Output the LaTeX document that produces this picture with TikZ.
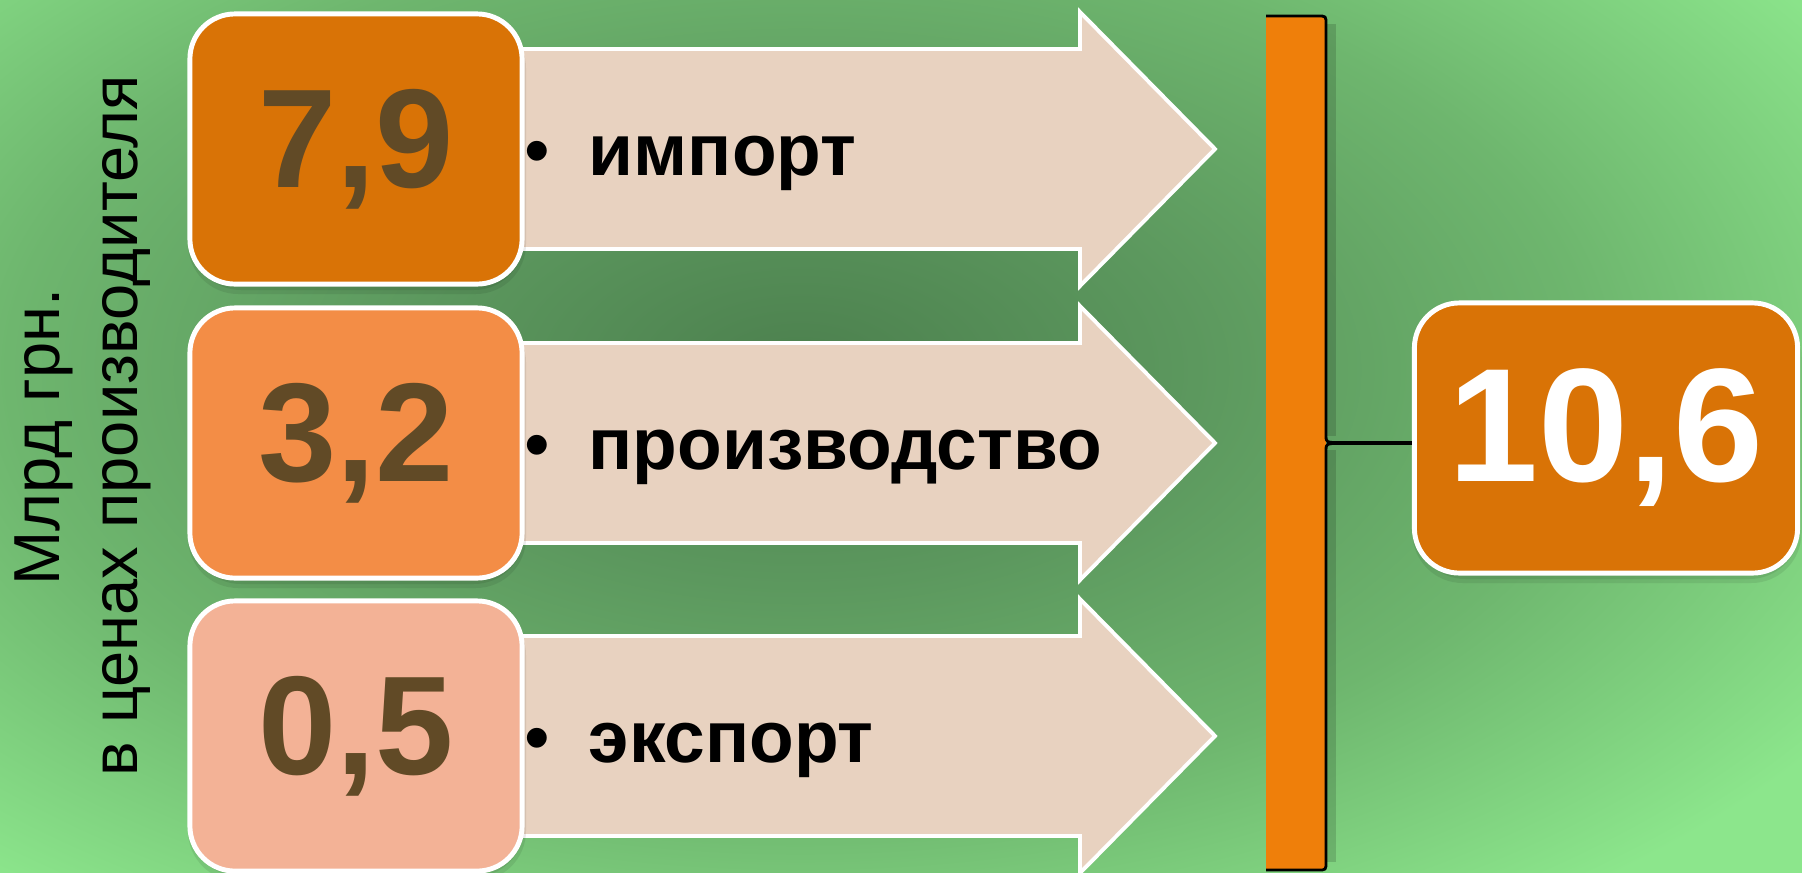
\documentclass[tikz,border=0pt]{standalone}
\usepackage{fontspec}
\setmainfont{Liberation Sans}
\definecolor{bgA}{RGB}{76,128,78}
\definecolor{bgB}{RGB}{92,152,94}
\definecolor{bgC}{RGB}{110,182,110}
\definecolor{bgD}{RGB}{140,230,140}
\definecolor{darkorange}{RGB}{217,115,6}
\definecolor{midorange}{RGB}{243,141,70}
\definecolor{lightsalmon}{RGB}{243,178,150}
\definecolor{barorange}{RGB}{239,127,10}
\definecolor{arrowfill}{RGB}{232,210,192}
\definecolor{digitbrown}{RGB}{97,74,38}
\pgfdeclareradialshading{bgshade}{\pgfpoint{0bp}{0bp}}{color(0bp)=(bgA); color(9bp)=(bgB); color(18bp)=(bgC); color(28bp)=(bgD); color(50bp)=(bgD)}
\begin{document}
\begin{tikzpicture}[x=0.01cm,y=-0.01cm,
  numbox/.style={rounded corners=0.45cm, draw=white, line width=1.4pt, minimum width=3.32cm, minimum height=2.7cm, inner sep=0pt, font=\fontsize{40}{40}\selectfont\bfseries, text=digitbrown},
  arrowshape/.style={fill=arrowfill, draw=white, line width=1.1pt, line join=miter},
  lbl/.style={font=\fontsize{20.8}{24}\selectfont\bfseries, anchor=base west, inner sep=0pt},
  bullet/.style={font=\fontsize{20.8}{24}\selectfont, anchor=base, inner sep=0pt},
  captxt/.style={rotate=90, anchor=base, inner sep=0pt, font=\fontsize{18.5}{22}\selectfont},
  boxshadow/.style={fill=black, opacity=0.08, rounded corners=0.5cm}]
\useasboundingbox (0,0) rectangle (1802,872);
\begin{scope}
\clip (0,0) rectangle (1802,872);
\shade[shading=bgshade] (-300,-230) rectangle (1900,970);
\end{scope}
% left caption
\node[captxt] (cap1) at (60,437) {Млрд грн.};
\node[captxt] (cap2) at (137,426) {в ценах производителя};
% arrows
\foreach \c in {149,443,736}{
  \path[arrowshape] (515,\c-100) -- (1080,\c-100) -- (1080,\c-137) -- (1215,\c) -- (1080,\c+137) -- (1080,\c+100) -- (515,\c+100) -- cycle;
}
\node[bullet] (b1) at (537,175) {•};
\node[lbl] (l1) at (588,175) {импорт};
\node[bullet] (b2) at (537,469) {•};
\node[lbl] (l2) at (588,469) {производство};
\node[bullet] (b3) at (537,762) {•};
\node[lbl] (l3) at (588,762) {экспорт};
% soft shadows
\foreach \cx/\cy/\w in {356/149/332,356/443/332,356/736/332,1606/438/383}{
  \fill[boxshadow] (\cx-\w/2-2,\cy-135+4) rectangle (\cx+\w/2+4,\cy+135+10);
  \fill[boxshadow] (\cx-\w/2+1,\cy-135+6) rectangle (\cx+\w/2+2,\cy+135+6);
}
% boxes
\node[numbox, fill=darkorange] (box1) at (356,149) {7,9};
\node[numbox, fill=midorange] (box2) at (356,443) {3,2};
\node[numbox, fill=lightsalmon] (box3) at (356,736) {0,5};
% bar with brace outline
\node[fill=barorange, minimum width=0.6cm, minimum height=8.54cm, inner sep=0pt] (bar) at (1296,443) {};
\draw[black, opacity=0.15, line width=3pt] (1331,24) -- (1331,436) (1331,450) -- (1331,862);
\draw[black, line width=0.8pt, line join=round] (1266,16) -- (1318,16) .. controls (1326,16) .. (1326,24) -- (1326,436) .. controls (1326,442) .. (1338,443) .. controls (1326,444) .. (1326,450) -- (1326,862) .. controls (1326,870) .. (1318,870) -- (1266,870);
% result box
\node[numbox, fill=darkorange, minimum width=3.83cm, text=white, font=\fontsize{46}{46}\selectfont\bfseries] (box4) at (1606,438) {10,6};
\draw[black, line width=1pt] (bar.east) -- (bar.east -| box4.west);
\end{tikzpicture}
\end{document}
